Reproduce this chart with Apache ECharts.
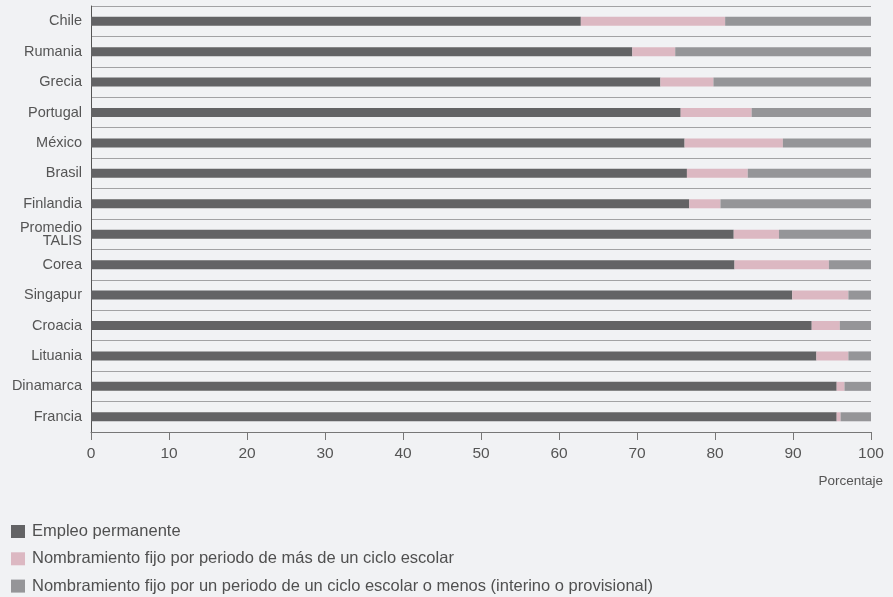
<!DOCTYPE html>
<html>
<head>
<meta charset="utf-8">
<script src="https://cdn.jsdelivr.net/npm/echarts@6/dist/echarts.min.js"></script>
<style>
  html, body { margin: 0; padding: 0; background: #f1f2f4; }
  #chart { width: 893px; height: 597px; }
</style>
</head>
<body>
<div id="chart"></div>
<script>
// países, de arriba hacia abajo
const paises = ['Chile', 'Rumania', 'Grecia', 'Portugal', 'México', 'Brasil', 'Finlandia',
  'Promedio\nTALIS', 'Corea', 'Singapur', 'Croacia', 'Lituania', 'Dinamarca', 'Francia'];

const permanente = [62.8, 69.4, 73.0, 75.6, 76.1, 76.4, 76.7, 82.4, 82.5, 89.9, 92.4, 93.0, 95.6, 95.6];
const masDeUnCiclo = [18.5, 5.5, 6.8, 9.1, 12.6, 7.8, 4.0, 5.8, 12.1, 7.2, 3.6, 4.1, 1.0, 0.5];
const unCicloOMenos = [18.7, 25.1, 20.2, 15.3, 11.3, 15.8, 19.3, 11.8, 5.4, 2.9, 4.0, 2.9, 3.4, 3.9];

const nombres = ['Empleo permanente',
  'Nombramiento fijo por periodo de más de un ciclo escolar',
  'Nombramiento fijo por un periodo de un ciclo escolar o menos (interino o provisional)'];
const colores = ['#636365', '#dcb8c2', '#959598'];

const fuente = 'Liberation Sans';

const chart = echarts.init(document.getElementById('chart'));

const option = {
  backgroundColor: '#f1f2f4',
  animation: false,
  textStyle: { fontFamily: fuente },
  grid: { left: 91, right: 22, top: 6, bottom: 165, containLabel: false },
  legend: {
    orient: 'vertical',
    left: 11,
    top: 523,
    padding: 0,
    itemWidth: 14,
    itemHeight: 13,
    itemGap: 10.3,
    icon: 'rect',
    textStyle: { color: '#505050', fontSize: 16.5, lineHeight: 14, fontFamily: fuente, padding: [0, 0, 0, 2] },
    data: nombres
  },
  graphic: [{
    type: 'text',
    right: 10,
    top: 474,
    style: { text: 'Porcentaje', fill: '#555', fontSize: 13.5, fontFamily: fuente }
  }],
  xAxis: {
    type: 'value',
    min: 0,
    max: 100,
    interval: 10,
    axisLine: { show: true, lineStyle: { color: '#777', width: 1 } },
    axisTick: { show: true, length: 8, lineStyle: { color: '#777' } },
    axisLabel: { color: '#555', fontSize: 15.5, margin: 14, fontFamily: fuente },
    splitLine: { show: false }
  },
  yAxis: {
    type: 'category',
    inverse: true,
    data: paises,
    axisLine: { show: true, lineStyle: { color: '#555', width: 1 } },
    axisTick: { show: false },
    axisLabel: { color: '#555', fontSize: 14.5, margin: 9, lineHeight: 13, fontFamily: fuente },
    splitLine: { show: true, lineStyle: { color: '#a2a2a4', width: 1 } }
  },
  series: [
    { name: nombres[0], type: 'bar', stack: 'total', data: permanente, barWidth: 9, itemStyle: { color: colores[0] } },
    { name: nombres[1], type: 'bar', stack: 'total', data: masDeUnCiclo, barWidth: 9, itemStyle: { color: colores[1] } },
    { name: nombres[2], type: 'bar', stack: 'total', data: unCicloOMenos, barWidth: 9, itemStyle: { color: colores[2] } }
  ]
};

chart.setOption(option);
</script>
</body>
</html>
